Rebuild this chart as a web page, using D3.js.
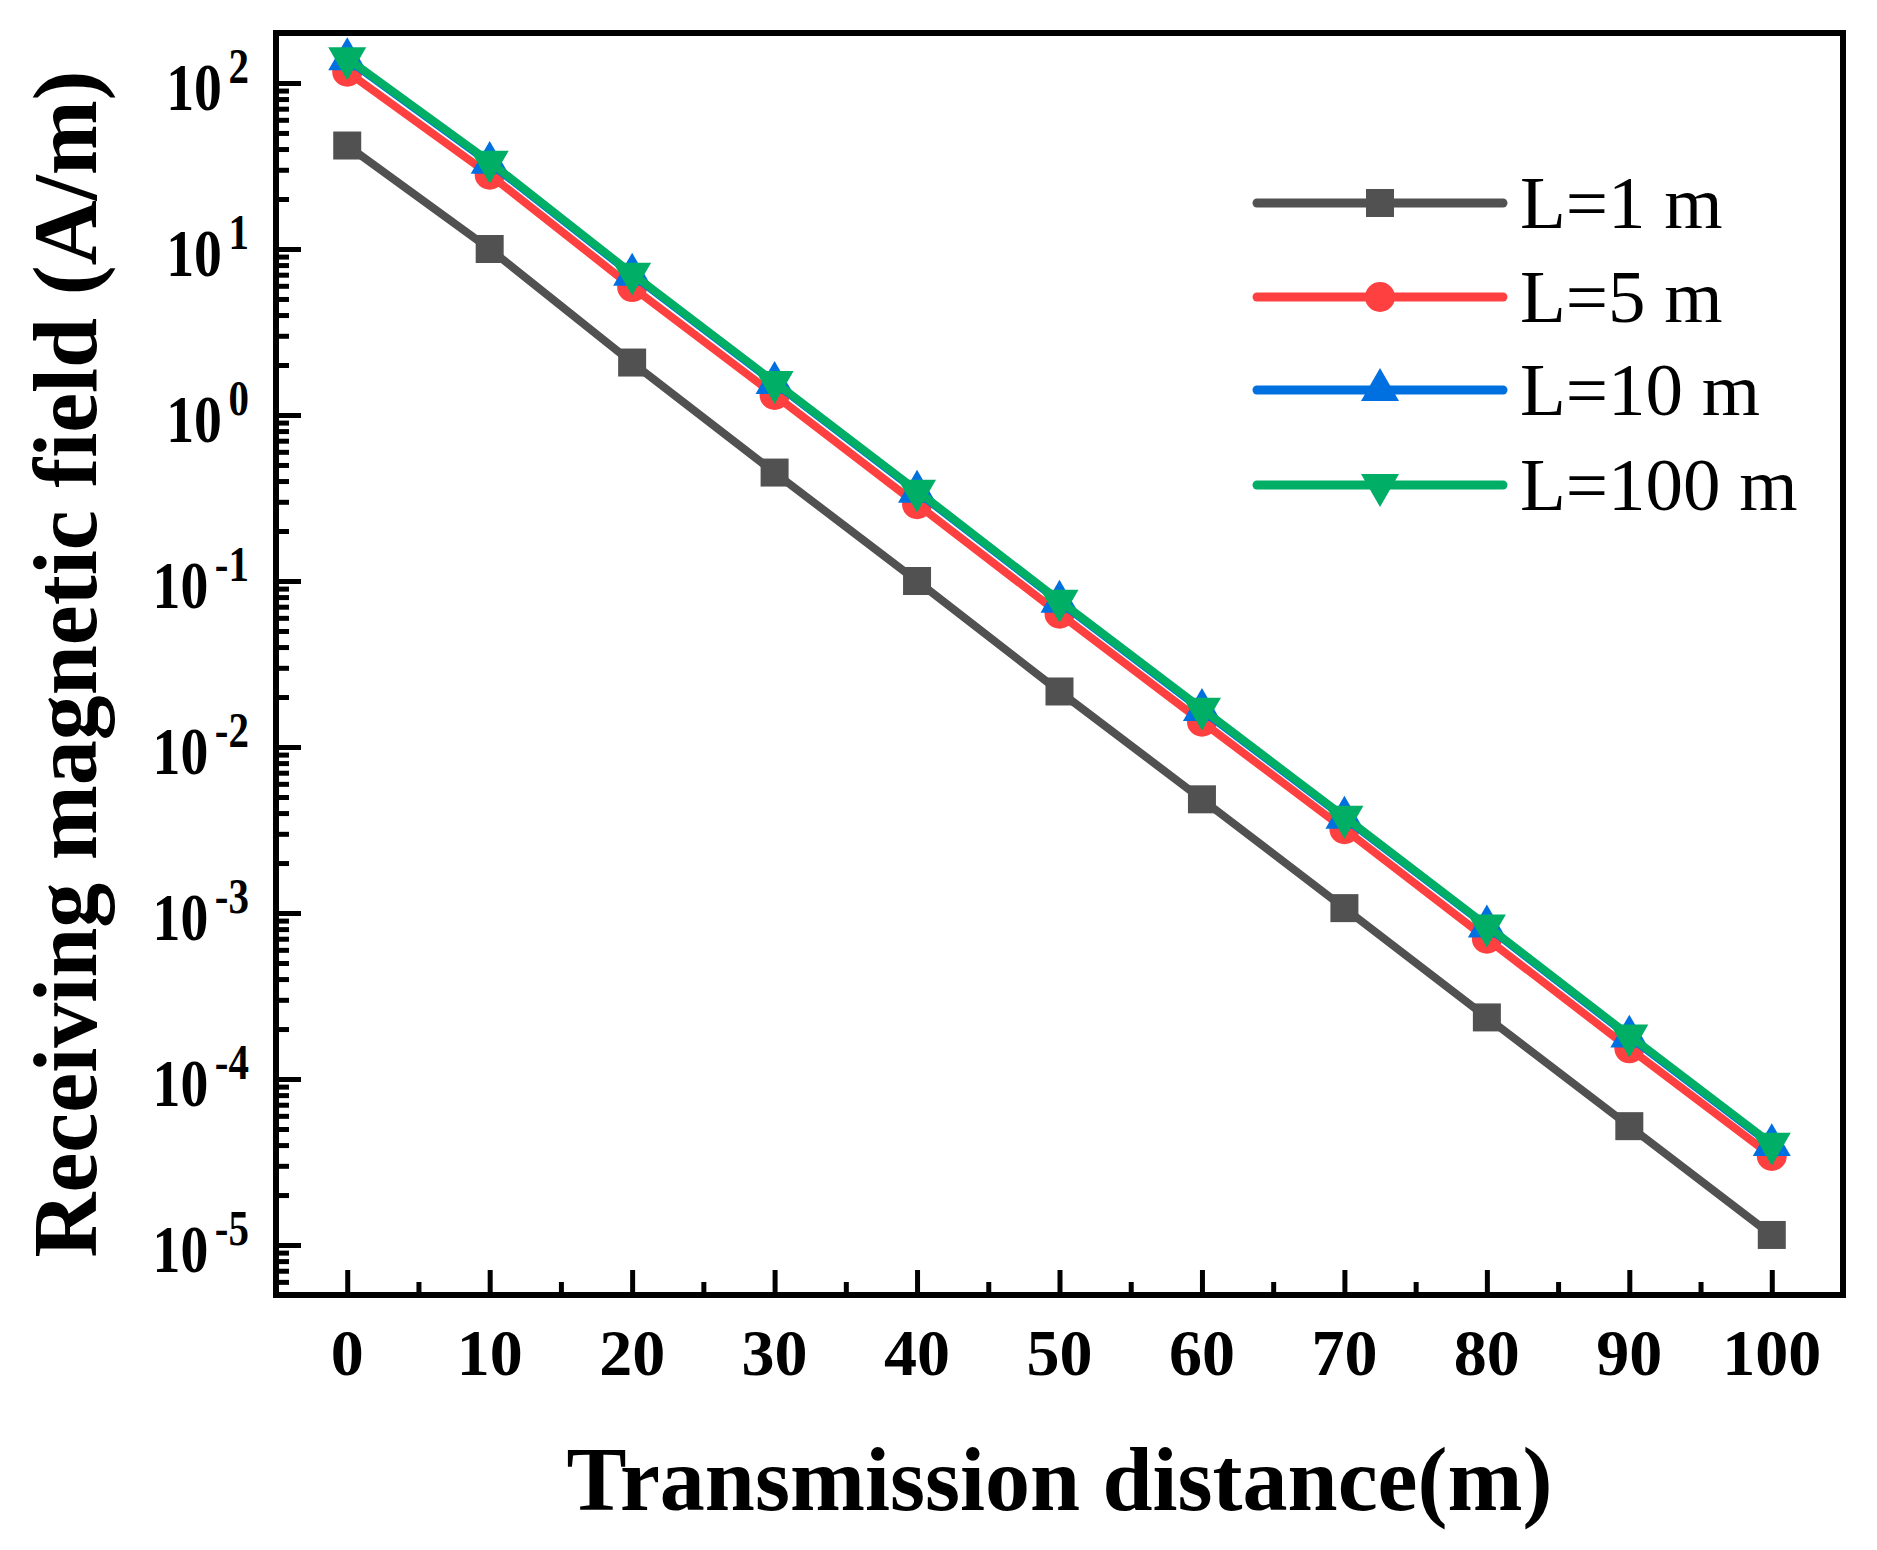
<!DOCTYPE html>
<html><head><meta charset="utf-8">
<script src="https://cdn.jsdelivr.net/npm/d3@7"></script>
<style>body{margin:0;background:#fff}svg{display:block}</style>
</head><body>
<script>
// ---- data ----
const distances = [0,10,20,30,40,50,60,70,80,90,100];
const seriesNames = ["L=1 m","L=5 m","L=10 m","L=100 m"];
const fieldL1   = [42, 10, 2.07, 0.45, 0.1, 0.0216, 0.00484, 0.00107, 2.35e-4, 5.2e-5, 1.15e-5];
const fieldL5   = [117, 28, 5.9, 1.32, 0.29, 0.0635, 0.0142, 0.0032, 7.0e-4, 1.53e-4, 3.44e-5];
const fieldL10  = [139, 33, 7.0, 1.56, 0.345, 0.075, 0.0167, 0.00375, 8.3e-4, 1.8e-4, 4.0e-5];
const fieldL100 = [141, 33.5, 7.1, 1.58, 0.35, 0.076, 0.0170, 0.0038, 8.4e-4, 1.83e-4, 4.07e-5];
const xTicks = [0,10,20,30,40,50,60,70,80,90,100];
const yTickExponents = [2,1,0,-1,-2,-3,-4,-5];
const xTitle = "Transmission distance(m)";
const yTitle = "Receiving magnetic field (A/m)";

const colors = ["#515151","#FF4040","#0070E0","#00AE66"];
const markerTypes = ["square","circle","up","down"];
const allSeries = [fieldL1, fieldL5, fieldL10, fieldL100];

const W = 1877, H = 1550;
const L = 276, T = 33, R = 1843, B = 1295;
const svg = d3.select("body").append("svg").attr("width", W).attr("height", H);

const x = d3.scaleLinear().domain([-5,105]).range([L,R]);
const y = d3.scaleLog().domain([5e-6,200]).range([B,T]);
const FONT = "'Liberation Serif','Times New Roman',serif";

function markerPath(type){
  if(type==="square"){ const s=28; return `M${-s/2},${-s/2}h${s}v${s}h${-s}Z`; }
  if(type==="circle"){ return d3.symbol(d3.symbolCircle, Math.PI*15*15)(); }
  const s=38, h=s*Math.sqrt(3)/2;
  if(type==="up") return `M0,${-2*h/3}L${s/2},${h/3}L${-s/2},${h/3}Z`;
  return `M0,${2*h/3}L${s/2},${-h/3}L${-s/2},${-h/3}Z`;
}

// series
const line = d3.line().x((d,i)=>x(distances[i])).y(d=>y(d));
allSeries.forEach((vals,si)=>{
  const g = svg.append("g");
  g.append("path").attr("d", line(vals)).attr("fill","none")
    .attr("stroke", colors[si]).attr("stroke-width", 8).attr("stroke-linejoin","round");
  g.selectAll("path.m").data(vals).enter().append("path").attr("class","m")
    .attr("d", markerPath(markerTypes[si]))
    .attr("transform",(d,i)=>`translate(${x(distances[i])},${y(d)})`)
    .attr("fill", colors[si]);
});

// frame
svg.append("rect").attr("x",L).attr("y",T).attr("width",R-L).attr("height",B-T)
  .attr("fill","none").attr("stroke","#000").attr("stroke-width",6);

// x axis ticks (inward)
const xAxis = d3.axisBottom(x).tickValues(xTicks).tickSize(-22).tickFormat("");
const gx = svg.append("g").attr("transform",`translate(0,${B-3})`).call(xAxis);
gx.select(".domain").remove();
gx.selectAll(".tick line").attr("stroke","#000").attr("stroke-width",5);
const xMinor = d3.axisBottom(x).tickValues(d3.range(5,100,10)).tickSize(-10).tickFormat("");
const gxm = svg.append("g").attr("transform",`translate(0,${B-3})`).call(xMinor);
gxm.select(".domain").remove();
gxm.selectAll(".tick line").attr("stroke","#000").attr("stroke-width",5);
svg.append("g").selectAll("text").data(xTicks).enter().append("text")
  .attr("x",d=>x(d)).attr("y",1375).attr("text-anchor","middle")
  .attr("font-family",FONT).attr("font-weight","bold").attr("font-size",66)
  .text(d=>d);

// y axis ticks
const majors = yTickExponents.map(e=>Math.pow(10,e));
const yAxis = d3.axisLeft(y).tickValues(majors).tickSize(-22).tickFormat("");
const gy = svg.append("g").attr("transform",`translate(${L+3},0)`).call(yAxis);
gy.select(".domain").remove();
gy.selectAll(".tick line").attr("stroke","#000").attr("stroke-width",5);
const minors = [];
for(let e=-6;e<=2;e++) for(let k=2;k<=9;k++){const v=k*Math.pow(10,e); if(v>5e-6 && v<200) minors.push(v);}
const yMinor = d3.axisLeft(y).tickValues(minors).tickSize(-10).tickFormat("");
const gym = svg.append("g").attr("transform",`translate(${L+3},0)`).call(yMinor);
gym.select(".domain").remove();
gym.selectAll(".tick line").attr("stroke","#000").attr("stroke-width",5);

const ylab = svg.append("g").selectAll("text").data(yTickExponents).enter().append("text")
  .attr("transform",e=>`translate(249,${y(Math.pow(10,e))+27}) scale(0.82,1)`)
  .attr("text-anchor","end").attr("font-family",FONT).attr("font-weight","bold");
ylab.append("tspan").attr("font-size",68).text("10");
ylab.append("tspan").attr("font-size",50).attr("dx",8).attr("dy",-27).text(e=>e<0?"-"+Math.abs(e):String(e));

// titles
svg.append("text").attr("x",(L+R)/2).attr("y",1510).attr("text-anchor","middle")
  .attr("font-family",FONT).attr("font-weight","bold").attr("font-size",90).text(xTitle);
svg.append("text").attr("transform",`translate(96,${(T+B)/2}) rotate(-90)`).attr("text-anchor","middle")
  .attr("font-family",FONT).attr("font-weight","bold").attr("font-size",90).text(yTitle);

// legend
const rows = [203,297,390,485];
seriesNames.forEach((name,i)=>{
  const g = svg.append("g").attr("transform",`translate(0,${rows[i]})`);
  g.append("line").attr("x1",1257).attr("x2",1503).attr("y1",0).attr("y2",0)
    .attr("stroke",colors[i]).attr("stroke-width",9).attr("stroke-linecap","round");
  g.append("path").attr("d",markerPath(markerTypes[i])).attr("transform","translate(1380,0)").attr("fill",colors[i]);
  g.append("text").attr("x",1520).attr("y",25).attr("font-family",FONT).attr("font-size",75).text(name);
});
</script>
</body></html>
